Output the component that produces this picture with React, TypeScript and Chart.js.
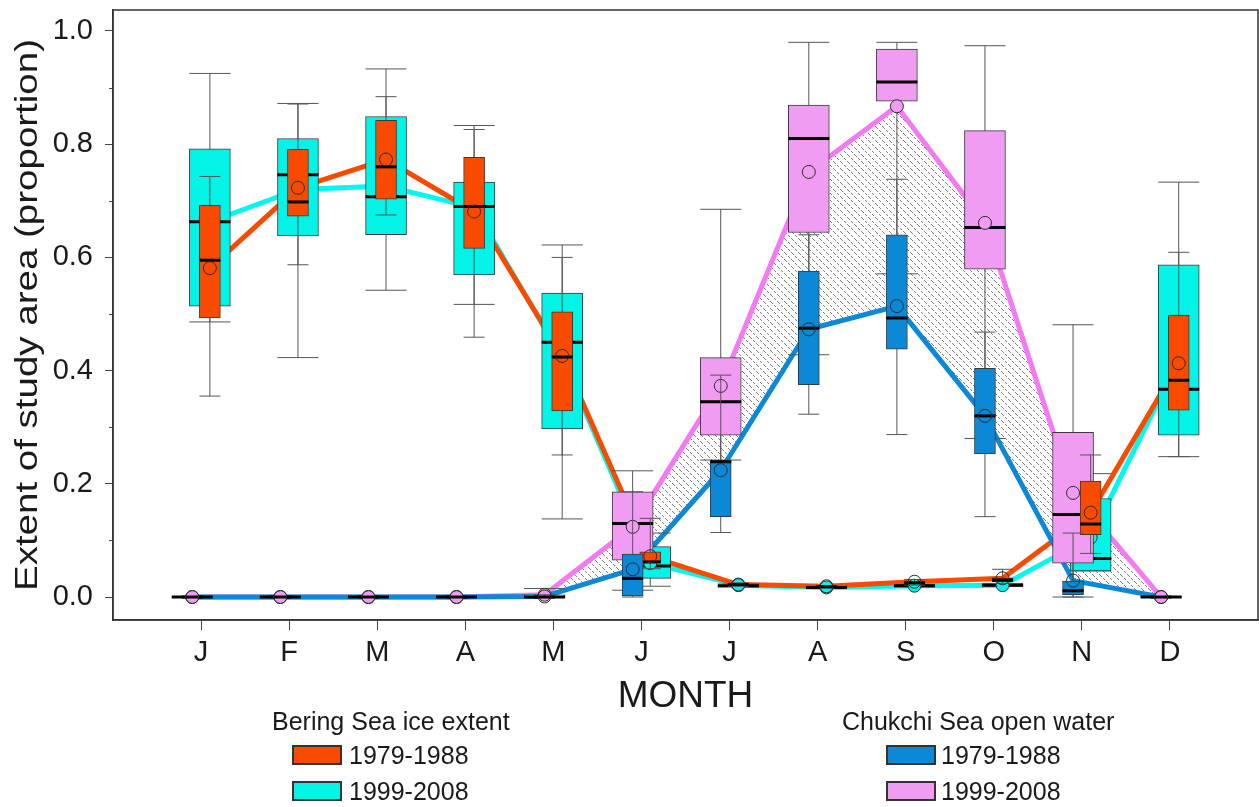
import React, { useEffect, useRef } from 'react';
import { Chart, registerables } from 'chart.js';

Chart.register(...registerables);

// ---------------- data ----------------
const MONTHS = ['J', 'F', 'M', 'A', 'M', 'J', 'J', 'A', 'S', 'O', 'N', 'D'];
const Y_TICKS = [0, 0.2, 0.4, 0.6, 0.8, 1.0];
const Y_MINOR_TICKS = [0.1, 0.3, 0.5, 0.7, 0.9];
const X_TITLE = 'MONTH';
const Y_TITLE = 'Extent of study area (proportion)';
const BERING_TITLE = 'Bering Sea ice extent';
const CHUKCHI_TITLE = 'Chukchi Sea open water';
const PERIOD_EARLY = '1979-1988';
const PERIOD_LATE = '1999-2008';

// Bering Sea ice extent, 1979-1988
const BERING_EARLY_MIN = [0.355, 0.587, 0.675, 0.459, 0.251, 0.050, 0.019, 0.016, 0.021, 0.024, 0.077, 0.248];
const BERING_EARLY_Q1 = [0.493, 0.673, 0.703, 0.616, 0.329, 0.061, 0.021, 0.017, 0.023, 0.027, 0.110, 0.330];
const BERING_EARLY_MED = [0.595, 0.698, 0.760, 0.690, 0.424, 0.062, 0.022, 0.018, 0.025, 0.030, 0.129, 0.383];
const BERING_EARLY_Q3 = [0.692, 0.791, 0.842, 0.777, 0.504, 0.080, 0.023, 0.019, 0.027, 0.034, 0.205, 0.498];
const BERING_EARLY_MAX = [0.743, 0.871, 0.884, 0.826, 0.600, 0.139, 0.025, 0.020, 0.031, 0.049, 0.251, 0.609];
const BERING_EARLY_MEAN = [0.581, 0.723, 0.773, 0.681, 0.426, 0.072, 0.022, 0.019, 0.027, 0.033, 0.149, 0.413];

// Bering Sea ice extent, 1999-2008
const BERING_LATE_MIN = [0.486, 0.423, 0.542, 0.517, 0.138, 0.019, 0.018, 0.015, 0.018, 0.019, 0.046, 0.248];
const BERING_LATE_Q1 = [0.514, 0.638, 0.640, 0.569, 0.297, 0.033, 0.020, 0.017, 0.019, 0.020, 0.046, 0.286];
const BERING_LATE_MED = [0.663, 0.746, 0.707, 0.690, 0.450, 0.055, 0.020, 0.017, 0.020, 0.021, 0.068, 0.367];
const BERING_LATE_Q3 = [0.792, 0.810, 0.849, 0.733, 0.537, 0.089, 0.021, 0.018, 0.021, 0.022, 0.174, 0.587];
const BERING_LATE_MAX = [0.925, 0.872, 0.933, 0.833, 0.622, 0.113, 0.023, 0.019, 0.022, 0.024, 0.218, 0.733];
const BERING_LATE_MEAN = [0.663, 0.720, 0.726, 0.688, 0.422, 0.060, 0.021, 0.017, 0.020, 0.021, 0.105, 0.418];

// Chukchi Sea open water, 1979-1988
const CHUKCHI_EARLY_MIN = [0, 0, 0, 0, 0, 0.000, 0.114, 0.323, 0.287, 0.142, 0.000, 0];
const CHUKCHI_EARLY_Q1 = [0, 0, 0, 0, 0, 0.002, 0.142, 0.375, 0.438, 0.253, 0.004, 0];
const CHUKCHI_EARLY_MED = [0, 0, 0, 0, 0, 0.033, 0.239, 0.475, 0.493, 0.320, 0.011, 0];
const CHUKCHI_EARLY_Q3 = [0, 0, 0, 0, 0.002, 0.076, 0.241, 0.576, 0.640, 0.404, 0.028, 0];
const CHUKCHI_EARLY_MAX = [0, 0, 0, 0, 0.004, 0.186, 0.392, 0.640, 0.738, 0.468, 0.113, 0];
const CHUKCHI_EARLY_MEAN = [0, 0, 0, 0, 0.001, 0.049, 0.224, 0.473, 0.514, 0.320, 0.029, 0];

// Chukchi Sea open water, 1999-2008
const CHUKCHI_LATE_MIN = [0, 0, 0, 0, 0, 0.012, 0.242, 0.428, 0.571, 0.280, 0.000, 0];
const CHUKCHI_LATE_Q1 = [0, 0, 0, 0, 0, 0.065, 0.286, 0.644, 0.876, 0.579, 0.060, 0];
const CHUKCHI_LATE_MED = [0, 0, 0, 0, 0, 0.130, 0.345, 0.810, 0.910, 0.653, 0.146, 0];
const CHUKCHI_LATE_Q3 = [0, 0, 0, 0, 0.004, 0.186, 0.423, 0.869, 0.968, 0.824, 0.291, 0];
const CHUKCHI_LATE_MAX = [0, 0, 0, 0, 0.015, 0.223, 0.685, 0.980, 0.980, 0.974, 0.481, 0];
const CHUKCHI_LATE_MEAN = [0, 0, 0, 0, 0.004, 0.124, 0.373, 0.751, 0.867, 0.661, 0.184, 0];

// ---------------- styles ----------------
const FONT = "'Liberation Sans', Arial, Helvetica, sans-serif";
const TEXT_COLOR = '#1a1a1a';
const ORANGE = '#F84B00';
const CYAN = '#03F4E6';
const CYAN_LINE = '#00F9EF';
const BLUE = '#0B88D6';
const PINK = '#F09CF2';
const PINK_LINE = '#F37AF3';
const WHISKER = '#555555';
const BOX_EDGE = '#3a3a3a';
const BERING_SHIFT = 0.1;
const CHUKCHI_SHIFT = -0.1;
const WIDE = 41;
const NARROW = 21;

const CANVAS_W = 1259;
const CANVAS_H = 807;

type Series = {
  min: number[]; q1: number[]; med: number[]; q3: number[]; max: number[]; mean: number[];
  shift: number; width: number; fill: string; line: string; markerFill: string;
};

const BERING_LATE: Series = {
  min: BERING_LATE_MIN, q1: BERING_LATE_Q1, med: BERING_LATE_MED, q3: BERING_LATE_Q3,
  max: BERING_LATE_MAX, mean: BERING_LATE_MEAN,
  shift: BERING_SHIFT, width: WIDE, fill: CYAN, line: CYAN_LINE, markerFill: CYAN,
};
const CHUKCHI_LATE: Series = {
  min: CHUKCHI_LATE_MIN, q1: CHUKCHI_LATE_Q1, med: CHUKCHI_LATE_MED, q3: CHUKCHI_LATE_Q3,
  max: CHUKCHI_LATE_MAX, mean: CHUKCHI_LATE_MEAN,
  shift: CHUKCHI_SHIFT, width: WIDE, fill: PINK, line: PINK_LINE, markerFill: PINK,
};
const BERING_EARLY: Series = {
  min: BERING_EARLY_MIN, q1: BERING_EARLY_Q1, med: BERING_EARLY_MED, q3: BERING_EARLY_Q3,
  max: BERING_EARLY_MAX, mean: BERING_EARLY_MEAN,
  shift: BERING_SHIFT, width: NARROW, fill: ORANGE, line: ORANGE, markerFill: 'rgba(0,0,0,0)',
};
const CHUKCHI_EARLY: Series = {
  min: CHUKCHI_EARLY_MIN, q1: CHUKCHI_EARLY_Q1, med: CHUKCHI_EARLY_MED, q3: CHUKCHI_EARLY_Q3,
  max: CHUKCHI_EARLY_MAX, mean: CHUKCHI_EARLY_MEAN,
  shift: CHUKCHI_SHIFT, width: NARROW, fill: BLUE, line: BLUE, markerFill: 'rgba(0,0,0,0)',
};

const xOf = (i: number, s: Series) => i + 1 + s.shift;

function makeHatch(ctx: CanvasRenderingContext2D) {
  const c = document.createElement('canvas');
  c.width = 7;
  c.height = 7;
  const g = c.getContext('2d')!;
  g.fillStyle = 'rgba(70,70,70,0.7)';
  [0, 1, 2, 4, 5].forEach((i) => g.fillRect(i, i, 1, 1));
  return ctx.createPattern(c, 'repeat');
}

const framePlugin = {
  id: 'frameAndTitle',
  afterDraw(chart: any) {
    const { ctx, chartArea } = chart;
    const yScale = chart.scales.y;
    ctx.save();
    // frame
    ctx.strokeStyle = '#333';
    ctx.lineWidth = 1.5;
    ctx.strokeRect(chartArea.left, chartArea.top, chartArea.right - chartArea.left, chartArea.bottom - chartArea.top);
    // minor ticks
    ctx.lineWidth = 1;
    ctx.strokeStyle = '#444';
    Y_MINOR_TICKS.forEach((v) => {
      const y = Math.round(yScale.getPixelForValue(v)) + 0.5;
      ctx.beginPath();
      ctx.moveTo(chartArea.left - 4, y);
      ctx.lineTo(chartArea.left, y);
      ctx.stroke();
    });
    // y title
    ctx.font = `32px ${FONT}`;
    const w = ctx.measureText(Y_TITLE).width;
    const sx = 552 / w;
    const cy = (chartArea.top + chartArea.bottom) / 2;
    ctx.translate(37, cy);
    ctx.rotate(-Math.PI / 2);
    ctx.scale(sx, 1);
    ctx.textAlign = 'center';
    ctx.textBaseline = 'alphabetic';
    ctx.fillStyle = TEXT_COLOR;
    ctx.fillText(Y_TITLE, 0, 0);
    ctx.restore();
  },
};

function buildDatasets(hatch: CanvasPattern | null) {
  const lineDs = (s: Series, extra: any = {}) => ({
    type: 'line',
    data: MONTHS.map((_, i) => ({ x: xOf(i, s), y: s.mean[i] })),
    borderColor: s.line,
    borderWidth: 5,
    borderJoinStyle: 'round',
    pointRadius: 0,
    tension: 0,
    fill: false,
    ...extra,
  });

  const groupDs = (s: Series) => [
    {
      type: 'line',
      data: MONTHS.flatMap((_, i) => [
        { x: xOf(i, s), y: s.min[i] },
        { x: xOf(i, s), y: s.max[i] },
        { x: xOf(i, s), y: null },
      ]),
      borderColor: WHISKER,
      borderWidth: 1,
      pointStyle: 'line',
      pointRadius: s.width / 2,
      pointBorderColor: WHISKER,
      pointBorderWidth: 1,
      pointBackgroundColor: WHISKER,
      spanGaps: false,
      fill: false,
    },
    {
      type: 'bar',
      data: MONTHS.map((_, i) => ({ x: xOf(i, s), y: [s.q1[i], s.q3[i]] })),
      backgroundColor: s.fill,
      borderColor: BOX_EDGE,
      borderWidth: 1,
      borderSkipped: false,
      barThickness: s.width,
      grouped: false,
    },
    {
      type: 'scatter',
      data: MONTHS.map((_, i) => ({ x: xOf(i, s), y: s.med[i] })),
      pointStyle: 'line',
      pointRadius: s.width / 2,
      pointBorderWidth: 3,
      pointBorderColor: '#000',
      pointBackgroundColor: '#000',
    },
    {
      type: 'scatter',
      data: MONTHS.map((_, i) => ({ x: xOf(i, s), y: s.mean[i] })),
      pointStyle: 'circle',
      pointRadius: 6.5,
      pointBackgroundColor: s.markerFill,
      pointBorderColor: '#2d2d2d',
      pointBorderWidth: 1,
    },
  ];

  const list: any[] = [
    lineDs(BERING_LATE),
    lineDs(BERING_EARLY),
    lineDs(CHUKCHI_LATE, { fill: '+1', backgroundColor: hatch }),
    lineDs(CHUKCHI_EARLY),
    ...groupDs(BERING_LATE),
    ...groupDs(CHUKCHI_LATE),
    ...groupDs(BERING_EARLY),
    ...groupDs(CHUKCHI_EARLY),
  ];
  return list.map((d, i) => ({ ...d, order: list.length - i }));
}

function ChartCanvas() {
  const ref = useRef<HTMLCanvasElement | null>(null);
  useEffect(() => {
    const canvas = ref.current;
    if (!canvas) return;
    const ctx = canvas.getContext('2d')!;
    const hatch = makeHatch(ctx);
    const chart = new Chart(ctx, {
      type: 'scatter',
      data: { datasets: buildDatasets(hatch) as any },
      options: {
        responsive: false,
        animation: false,
        devicePixelRatio: 1,
        events: [],
        layout: { autoPadding: false, padding: { left: 0, top: 10, right: 1, bottom: 0 } },
        plugins: {
          legend: { display: false },
          tooltip: { enabled: false },
        },
        scales: {
          x: {
            type: 'linear',
            min: 0,
            max: 13,
            offset: false,
            afterBuildTicks: (scale: any) => {
              scale.ticks = MONTHS.map((_, i) => ({ value: i + 1 }));
            },
            afterFit: (scale: any) => {
              scale.height = 187;
              scale.paddingLeft = 0;
              scale.paddingRight = 0;
            },
            ticks: {
              autoSkip: false,
              maxRotation: 0,
              padding: 6,
              color: TEXT_COLOR,
              font: { family: FONT, size: 29 },
              callback: (_v: any, index: number) => MONTHS[index],
            },
            grid: { drawOnChartArea: false, drawTicks: true, tickLength: 10, color: '#444', offset: false },
            border: { display: true, color: '#333', width: 1.5 },
            title: {
              display: true,
              text: X_TITLE,
              color: TEXT_COLOR,
              font: { family: FONT, size: 37 },
              padding: { top: 0, bottom: 88 },
            },
          },
          y: {
            type: 'linear',
            min: -0.0406,
            max: 1.0371,
            afterBuildTicks: (scale: any) => {
              scale.ticks = Y_TICKS.map((v) => ({ value: v }));
            },
            afterFit: (scale: any) => {
              scale.width = 113;
              scale.paddingTop = 0;
              scale.paddingBottom = 0;
            },
            ticks: {
              padding: 12,
              color: TEXT_COLOR,
              font: { family: FONT, size: 29 },
              callback: (v: any) => Number(v).toFixed(1),
            },
            grid: { drawOnChartArea: false, drawTicks: true, tickLength: 8, color: '#444' },
            border: { display: true, color: '#333', width: 1.5 },
          },
        },
      } as any,
      plugins: [framePlugin],
    });
    return () => chart.destroy();
  }, []);
  return (
    <canvas
      ref={ref}
      width={CANVAS_W}
      height={CANVAS_H}
      style={{ position: 'absolute', left: 0, top: 0, width: CANVAS_W, height: CANVAS_H }}
    />
  );
}

const textStyle = (left: number, centerY: number, size: number): React.CSSProperties => ({
  position: 'absolute',
  left,
  top: centerY - 15,
  height: 30,
  lineHeight: '30px',
  fontFamily: FONT,
  fontSize: size,
  color: TEXT_COLOR,
  whiteSpace: 'nowrap',
});

const swatchStyle = (left: number, top: number, color: string): React.CSSProperties => ({
  position: 'absolute',
  left,
  top,
  width: 50,
  height: 20,
  boxSizing: 'border-box',
  border: '2px solid #333',
  background: color,
});

export default function App() {
  return (
    <div style={{ position: 'absolute', left: 0, top: 0, width: CANVAS_W, height: CANVAS_H, background: '#fff' }}>
      <ChartCanvas />
      <div style={textStyle(272, 721, 25)}>{BERING_TITLE}</div>
      <div style={swatchStyle(292, 745, ORANGE)} />
      <div style={textStyle(349, 755, 25)}>{PERIOD_EARLY}</div>
      <div style={swatchStyle(292, 781, CYAN)} />
      <div style={textStyle(349, 791, 25)}>{PERIOD_LATE}</div>

      <div style={textStyle(842, 721, 25)}>{CHUKCHI_TITLE}</div>
      <div style={swatchStyle(886, 745, BLUE)} />
      <div style={textStyle(941, 755, 25)}>{PERIOD_EARLY}</div>
      <div style={swatchStyle(886, 781, PINK)} />
      <div style={textStyle(941, 791, 25)}>{PERIOD_LATE}</div>
    </div>
  );
}
